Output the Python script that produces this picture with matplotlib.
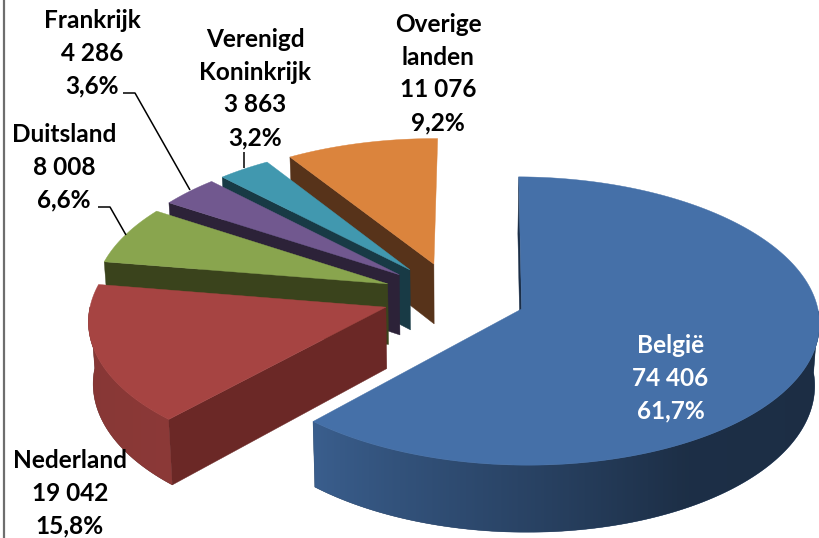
import numpy as np
import matplotlib
matplotlib.use("Agg")
import matplotlib.pyplot as plt
from matplotlib.patches import Polygon

# ---- data -------------------------------------------------------------
countries = ["België", "Nederland", "Duitsland", "Frankrijk", "Verenigd\nKoninkrijk", "Overige\nlanden"]
values = [74406, 19042, 8008, 4286, 3863, 11076]
value_labels = ["74 406", "19 042", "8 008", "4 286", "3 863", "11 076"]
percent_labels = ["61,7%", "15,8%", "6,6%", "3,6%", "3,2%", "9,2%"]
top_colors = ["#4570A8", "#A64442", "#89A54E", "#71588F", "#4198AF", "#DB843D"]
side_colors = ["#1B2E47", "#6B2826", "#3A431C", "#2C2238", "#183A45", "#57331A"]

# ---- projection / style ------------------------------------------------
W, H = 819, 538
CX, CY, RX, RY = 453.0, 296.0, 294.0, 141.0
PERSP, DEPTH, SHRINK, ROT = 0.083, 61.0, 0.987, 0.5
explode = [0.249, 0.24, 0.24, 0.24, 0.24, 0.24]
label_pos = [(670.5, 353), (70, 468), (64, 142), (92, 28), (255, 47), (438, 32)]
label_col = ["white", "black", "black", "black", "black", "black"]
line_step = 32.7
leaders = {3: [(123, 93), (135, 93), (190, 190)],
           2: [(98, 207), (110, 207), (126, 235)],
           4: [(244, 152), (244, 168)]}

plt.rcParams["font.family"] = ["Lato", "DejaVu Sans"]
fig = plt.figure(figsize=(W / 100, H / 100), dpi=100)
ax = fig.add_axes([0, 0, 1, 1])
ax.axis("off")


def project(u, v, low=False):
    s = 1.0 / (1.0 + PERSP * v)
    x = RX * u * s
    y = -RY * v * s
    if low:
        return CX + x * SHRINK, CY + y + DEPTH * s
    return CX + x, CY + y


def shade(deg):
    """Brightness of the rim, darkening towards the right-hand side."""
    return np.interp(deg, [90, 150, 180, 222, 270], [0.40, 0.42, 0.60, 0.84, 0.80])


fractions = np.array(values, dtype=float) / np.sum(values)
edges = np.concatenate([[0], np.cumsum(fractions) * 360])

order = [5, 4, 3, 2, 1, 0]  # back to front
for i in order:
    a0, a1 = edges[i], edges[i + 1]
    mid = np.radians((a0 + a1) / 2 + ROT)
    ou, ov = explode[i] * np.sin(mid), explode[i] * np.cos(mid)
    degs = np.linspace(a0, a1, max(int(a1 - a0) * 2, 8) + 1)
    th = np.radians(degs + ROT)
    us, vs = ou + np.sin(th), ov + np.cos(th)

    apex_t, apex_b = project(ou, ov), project(ou, ov, True)
    rim_t = [project(u, v) for u, v in zip(us, vs)]
    rim_b = [project(u, v, True) for u, v in zip(us, vs)]
    z = 1 + 5 - i

    # radial side faces
    if np.sin(np.radians(a0)) < 0 or a0 == 0:
        ax.add_patch(Polygon([apex_t, rim_t[0], rim_b[0], apex_b], closed=True,
                             fc=side_colors[i], ec=side_colors[i], lw=0.3, zorder=z))

    # outer rim: gradient image clipped to the rim outline
    vis = (degs >= 90) & (degs <= 270)
    if vis.sum() > 1:
        top_pts = np.array(rim_t)[vis]
        bot_pts = np.array(rim_b)[vis]
        outline = np.vstack([top_pts, bot_pts[::-1]])
        x0, x1 = outline[:, 0].min(), outline[:, 0].max()
        y0, y1 = outline[:, 1].min(), outline[:, 1].max()
        cols = np.linspace(x0, x1, 200)
        sort = np.argsort(top_pts[:, 0])
        f = np.interp(cols, top_pts[sort, 0], shade(degs[vis][sort]))
        rgb = np.array(matplotlib.colors.to_rgb(top_colors[i]))
        img = (f[:, None] * rgb)[None, :, :]
        clip = Polygon(outline, closed=True, fc=rgb * 0.6, ec=rgb * 0.6, lw=0.3,
                       transform=ax.transData, zorder=z)
        ax.add_patch(clip)
        im = ax.imshow(img, extent=(x0, x1, y1, y0), aspect="auto", interpolation="bilinear",
                       zorder=z + 0.1)
        im.set_clip_path(clip)

    # top face
    ax.add_patch(Polygon([apex_t] + rim_t, closed=True, fc=top_colors[i],
                         ec=top_colors[i], lw=0.3, zorder=z + 0.5))

# leader lines
for pts in leaders.values():
    xs, ys = zip(*pts)
    ax.plot(xs, ys, color="black", lw=1.1, zorder=20, solid_capstyle="butt")

# labels, one text per line on fixed baselines
for name, val, pct, (x, y), col in zip(countries, value_labels, percent_labels, label_pos, label_col):
    for k, line in enumerate(name.split("\n") + [val, pct]):
        ax.text(x, y + k * line_step, line, ha="center", va="baseline",
                fontsize=17.6, fontweight="bold", color=col, zorder=30)

# left border of the picture
ax.plot([3.5, 3.5], [0, H], color="#6e6e6e", lw=1.6, zorder=40, solid_capstyle="butt")

ax.set_xlim(0, W)
ax.set_ylim(H, 0)
fig.savefig("out.png", dpi=100, facecolor="white")
